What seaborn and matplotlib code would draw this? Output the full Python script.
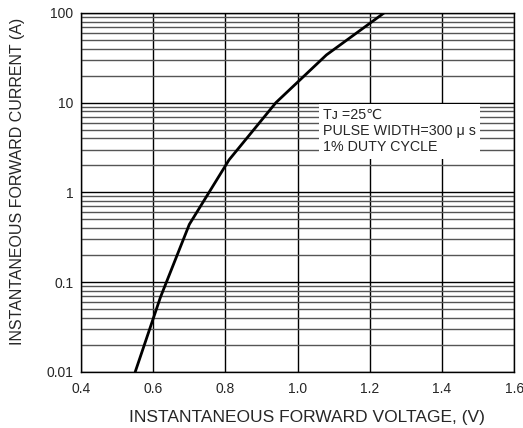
import matplotlib
matplotlib.use("Agg")
import matplotlib.pyplot as plt
import matplotlib.ticker as mticker
import seaborn as sns
import numpy as np

sns.set_style("white")
plt.rcParams["font.family"] = ["Liberation Sans", "DejaVu Sans"]

# curve
voltage = [0.55, 0.62, 0.70, 0.81, 0.94, 1.08, 1.24]
current = [0.01, 0.068, 0.44, 2.3, 10.0, 34.0, 100.0]

x_ticks = [0.4, 0.6, 0.8, 1.0, 1.2, 1.4, 1.6]
y_ticks = [0.01, 0.1, 1, 10, 100]
y_labels = ["0.01", "0.1", "1", "10", "100"]

fig = plt.figure(figsize=(5.23, 4.28), dpi=100)
ax = fig.add_axes([0.155, 0.131, 0.828, 0.839])

sns.lineplot(x=voltage, y=current, ax=ax, color="black", linewidth=2, zorder=5)

ax.set_yscale("log")
ax.set_xlim(0.4, 1.6)
ax.set_ylim(0.01, 100)

ax.set_xticks(x_ticks)
ax.set_xticklabels([f"{v:.1f}" for v in x_ticks], fontsize=10)
ax.set_yticks(y_ticks)
ax.set_yticklabels(y_labels, fontsize=10)
ax.yaxis.set_minor_locator(mticker.LogLocator(base=10, subs=np.arange(2, 10), numticks=20))
ax.yaxis.set_minor_formatter(mticker.NullFormatter())
ax.tick_params(axis="y", which="both", length=0, pad=5.5)
ax.tick_params(axis="x", which="both", length=0, pad=7)

ax.grid(True, which="major", axis="both", color="black", linewidth=1)
ax.grid(True, which="minor", axis="y", color="#555555", linewidth=1)
ax.set_axisbelow(True)

for s in ax.spines.values():
    s.set_color("black")
    s.set_linewidth(1)

ax.text(
    1.07, 8.7,
    "Tᴊ =25℃\nPULSE WIDTH=300 μ s\n1% DUTY CYCLE",
    fontsize=10.3, va="top", ha="left", linespacing=1.2, zorder=6,
    bbox=dict(facecolor="white", edgecolor="none", pad=3),
)

ax.set_xlabel("INSTANTANEOUS FORWARD VOLTAGE, (V)", fontsize=12.5)
ax.set_ylabel("INSTANTANEOUS FORWARD CURRENT (A)", fontsize=11.5)
ax.xaxis.set_label_coords(0.522, -0.106)
ax.yaxis.set_label_coords(-0.129, 0.532)

fig.savefig("out.png", dpi=100)
